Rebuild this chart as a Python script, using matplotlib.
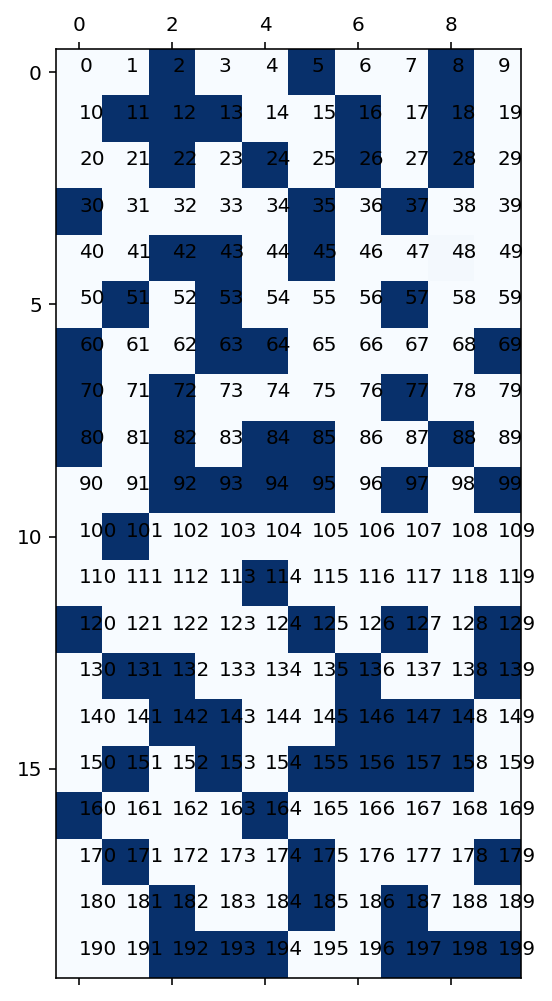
import numpy as np
import matplotlib
matplotlib.use("Agg")
import matplotlib.pyplot as plt

n_rows = 20
n_cols = 10
dark_cells = [2, 5, 8,
              11, 12, 13, 16, 18,
              22, 24, 26, 28,
              30, 35, 37,
              42, 43, 45,
              51, 53, 57,
              60, 63, 64, 69,
              70, 72, 77,
              80, 82, 84, 85, 88,
              92, 93, 94, 95, 97, 99,
              101,
              114,
              120, 125, 127, 129,
              131, 132, 136, 139,
              142, 143, 146, 147, 148,
              151, 153, 155, 156, 157, 158,
              160, 164,
              171, 175, 179,
              182, 185, 187,
              192, 193, 194, 197, 198, 199]
faint_cells = [48]
faint_value = 0.02

values = np.zeros(n_rows * n_cols)
values[dark_cells] = 1.0
values[faint_cells] = faint_value
matrix = values.reshape(n_rows, n_cols)

fig = plt.figure(figsize=(552 / 144, 1001 / 144), dpi=144)
ax = fig.add_axes([56 / 552, 1 - 978 / 1001, 465 / 552, 929 / 1001])
ax.matshow(matrix, cmap="Blues", aspect="auto")
for i in range(n_rows):
    for j in range(n_cols):
        ax.text(j, i, str(i * n_cols + j))
fig.savefig("out.png", dpi=144)
